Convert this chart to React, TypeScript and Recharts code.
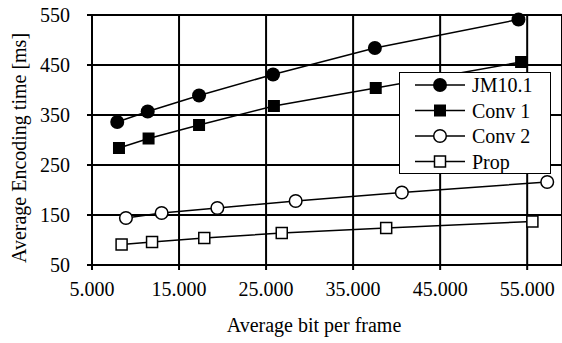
import {
  CartesianGrid,
  Label,
  Legend,
  Line,
  LineChart,
  XAxis,
  YAxis,
} from 'recharts';

// bits per frame / encoding time [ms]
const jmX = [7900, 11400, 17300, 25800, 37500, 54000];
const jmY = [336, 357, 389, 431, 484, 541];
const conv1X = [8100, 11500, 17300, 25900, 37600, 54300];
const conv1Y = [284, 303, 330, 368, 404, 456];
const conv2X = [8900, 13000, 19400, 28400, 40600, 57300];
const conv2Y = [144, 154, 164, 178, 195, 216];
const propX = [8400, 11900, 17900, 26800, 38800, 55600];
const propY = [91, 96, 104, 114, 124, 137];

const xTicks = [5000, 15000, 25000, 35000, 45000, 55000];
const yTicks = [50, 150, 250, 350, 450, 550];
const seriesNames = ['JM10.1', 'Conv 1', 'Conv 2', 'Prop'];

const toRows = (xs: number[], ys: number[]) =>
  xs.map((x, i) => ({ x, y: ys[i] }));

const font = '"Liberation Serif", "Times New Roman", serif';

const Marker = ({ kind, cx, cy }: any) => {
  if (kind === 0) return <circle cx={cx} cy={cy} r={7} fill='#000' />;
  if (kind === 1)
    return <rect x={cx - 6} y={cy - 6} width={12} height={12} fill='#000' />;
  if (kind === 2)
    return (
      <circle cx={cx} cy={cy} r={6.3} fill='#fff' stroke='#000' strokeWidth={1.5} />
    );
  return (
    <rect
      x={cx - 5.5}
      y={cy - 5.5}
      width={11}
      height={11}
      fill='#fff'
      stroke='#000'
      strokeWidth={1.5}
    />
  );
};

const dotFor = (kind: number) => (p: any) =>
  <Marker key={`${kind}-${p.index}`} kind={kind} cx={p.cx} cy={p.cy} />;

const LegendBox = () => (
  <div
    style={{
      width: 152,
      height: 102,
      boxSizing: 'border-box',
      border: '1.5px solid #000',
      background: '#fff',
    }}
  >
    <svg width={150} height={100}>
      {seriesNames.map((name, i) => {
        const cy = 12 + i * 25.5;
        return (
          <g key={name}>
            <line x1={15} x2={65} y1={cy} y2={cy} stroke='#000' strokeWidth={1.5} />
            <Marker kind={i} cx={40} cy={cy} />
            <text
              x={72}
              y={cy}
              dy='0.35em'
              fontFamily={font}
              fontSize={20}
              fill='#000'
            >
              {name}
            </text>
          </g>
        );
      })}
    </svg>
  </div>
);

export default function App() {
  const tickStyle = { fontFamily: font, fontSize: 20, fill: '#000' };
  return (
    <div
      style={{
        position: 'absolute',
        left: 0,
        top: 0,
        width: 562,
        height: 343,
        background: '#fff',
      }}
    >
      <LineChart
        width={562}
        height={343}
        margin={{ top: 15, right: 0, left: 0, bottom: 0 }}
      >
        <CartesianGrid stroke='#000' strokeWidth={2} />
        <XAxis
          dataKey='x'
          type='number'
          domain={[5000, 59000]}
          ticks={xTicks}
          allowDataOverflow
          height={78}
          stroke='#000'
          strokeWidth={2}
          tickSize={5}
          tickMargin={12}
          tick={tickStyle}
          tickFormatter={(v: number) => `${v / 1000}.000`}
        >
          <Label
            content={() => (
              <text
                x={314}
                y={332}
                textAnchor='middle'
                fontFamily={font}
                fontSize={20}
                fill='#000'
              >
                Average bit per frame
              </text>
            )}
          />
        </XAxis>
        <YAxis
          type='number'
          domain={[50, 550]}
          ticks={yTicks}
          width={92}
          stroke='#000'
          strokeWidth={2}
          tickSize={5}
          tickMargin={17}
          tick={tickStyle}
        >
          <Label
            content={() => (
              <text
                x={26}
                y={148}
                textAnchor='middle'
                transform='rotate(-90, 26, 148)'
                fontFamily={font}
                fontSize={20}
                fill='#000'
              >
                Average Encoding time [ms]
              </text>
            )}
          />
        </YAxis>
        <Legend
          layout='horizontal'
          verticalAlign='middle'
          content={() => <LegendBox />}
          wrapperStyle={{ position: 'absolute', left: 399, top: 72, width: 152 }}
        />
        <Line
          data={toRows(jmX, jmY)}
          dataKey='y'
          name='JM10.1'
          stroke='#000'
          strokeWidth={1.5}
          dot={dotFor(0)}
          isAnimationActive={false}
        />
        <Line
          data={toRows(conv1X, conv1Y)}
          dataKey='y'
          name='Conv 1'
          stroke='#000'
          strokeWidth={1.5}
          dot={dotFor(1)}
          isAnimationActive={false}
        />
        <Line
          data={toRows(conv2X, conv2Y)}
          dataKey='y'
          name='Conv 2'
          stroke='#000'
          strokeWidth={1.5}
          dot={dotFor(2)}
          isAnimationActive={false}
        />
        <Line
          data={toRows(propX, propY)}
          dataKey='y'
          name='Prop'
          stroke='#000'
          strokeWidth={1.5}
          dot={dotFor(3)}
          isAnimationActive={false}
        />
      </LineChart>
    </div>
  );
}
